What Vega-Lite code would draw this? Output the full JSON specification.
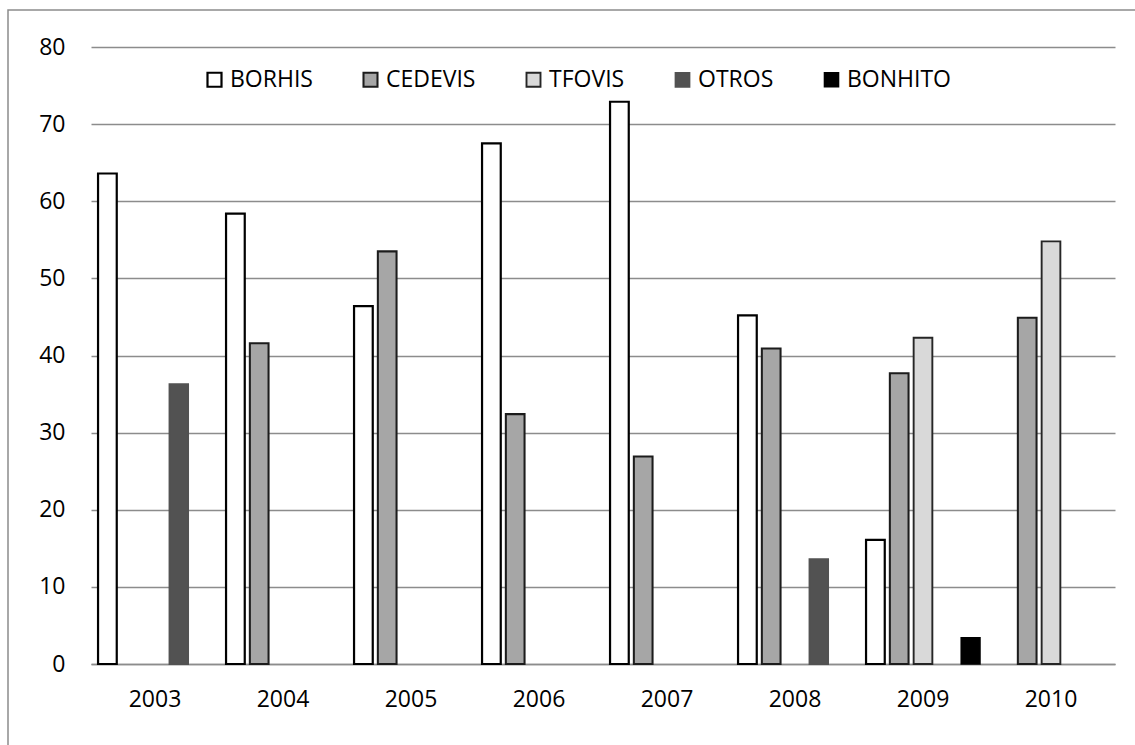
{
  "$schema": "https://vega.github.io/schema/vega-lite/v6.json",
  "width": 1127,
  "height": 735,
  "autosize": {"type": "none"},
  "padding": {"left": 8, "top": 10, "right": 0, "bottom": 0},
  "background": "#ffffff",
  "config": {
    "font": "Open Sans",
    "view": {"stroke": "#8c8c8c", "strokeWidth": 1.5, "strokeDash": [1127, 1862, 735]},
    "axis": {"labelFont": "Open Sans", "labelFontSize": 23, "labelColor": "#000000"},
    "legend": {
      "labelFont": "Open Sans",
      "labelFontSize": 23,
      "labelColor": "#000000"
    }
  },
  "data": {
    "values": [
      {"year": "2003", "serie": "BORHIS", "valor": 63.6},
      {"year": "2003", "serie": "OTROS", "valor": 36.3},
      {"year": "2004", "serie": "BORHIS", "valor": 58.4},
      {"year": "2004", "serie": "CEDEVIS", "valor": 41.6},
      {"year": "2005", "serie": "BORHIS", "valor": 46.4},
      {"year": "2005", "serie": "CEDEVIS", "valor": 53.5},
      {"year": "2006", "serie": "BORHIS", "valor": 67.5},
      {"year": "2006", "serie": "CEDEVIS", "valor": 32.4},
      {"year": "2007", "serie": "BORHIS", "valor": 72.9},
      {"year": "2007", "serie": "CEDEVIS", "valor": 26.9},
      {"year": "2008", "serie": "BORHIS", "valor": 45.2},
      {"year": "2008", "serie": "CEDEVIS", "valor": 40.9},
      {"year": "2008", "serie": "OTROS", "valor": 13.6},
      {"year": "2009", "serie": "BORHIS", "valor": 16.1},
      {"year": "2009", "serie": "CEDEVIS", "valor": 37.7},
      {"year": "2009", "serie": "TFOVIS", "valor": 42.3},
      {"year": "2009", "serie": "BONHITO", "valor": 3.4},
      {"year": "2010", "serie": "CEDEVIS", "valor": 44.9},
      {"year": "2010", "serie": "TFOVIS", "valor": 54.8}
    ]
  },
  "mark": {"type": "bar"},
  "encoding": {
    "x": {
      "field": "year",
      "type": "nominal",
      "scale": {"range": [83, 1107], "paddingInner": 0, "paddingOuter": 0},
      "axis": {
        "orient": "bottom",
        "offset": -81,
        "title": null,
        "domain": true,
        "domainColor": "#8c8c8c",
        "domainWidth": 1.5,
        "ticks": false,
        "tickSize": 0,
        "grid": false,
        "labelAngle": 0,
        "labelBaseline": "middle",
        "labelPadding": 35
      }
    },
    "xOffset": {
      "field": "serie",
      "type": "nominal",
      "scale": {
        "domain": ["BORHIS", "CEDEVIS", "TFOVIS", "OTROS", "BONHITO"],
        "paddingInner": 0.214,
        "paddingOuter": 0.296
      }
    },
    "y": {
      "field": "valor",
      "type": "quantitative",
      "scale": {"domain": [0, 80], "range": [654, 37], "nice": false, "zero": true},
      "axis": {
        "orient": "left",
        "offset": -83,
        "title": null,
        "values": [0, 10, 20, 30, 40, 50, 60, 70, 80],
        "domain": false,
        "ticks": false,
        "tickSize": 0,
        "labelPadding": 26,
        "grid": true,
        "gridColor": "#8c8c8c",
        "gridWidth": 1.5
      }
    },
    "fill": {
      "field": "serie",
      "type": "nominal",
      "scale": {
        "domain": ["BORHIS", "CEDEVIS", "TFOVIS", "OTROS", "BONHITO"],
        "range": ["#ffffff", "#a6a6a6", "#d9d9d9", "#525252", "#000000"]
      },
      "legend": {
        "title": null,
        "orient": "none",
        "legendX": 195,
        "legendY": 58,
        "direction": "horizontal",
        "padding": 0,
        "symbolType": "square",
        "symbolSize": 196,
        "symbolOpacity": 1,
        "labelOffset": 4,
        "columnPadding": 46
      }
    },
    "stroke": {
      "field": "serie",
      "type": "nominal",
      "scale": {
        "domain": ["BORHIS", "CEDEVIS", "TFOVIS", "OTROS", "BONHITO"],
        "range": ["#000000", "#1c1c1c", "#262626", "#525252", "#000000"]
      }
    },
    "strokeWidth": {
      "field": "serie",
      "type": "nominal",
      "scale": {
        "domain": ["BORHIS", "CEDEVIS", "TFOVIS", "OTROS", "BONHITO"],
        "range": [2.2, 1.6, 1.6, 0, 0]
      }
    }
  }
}
